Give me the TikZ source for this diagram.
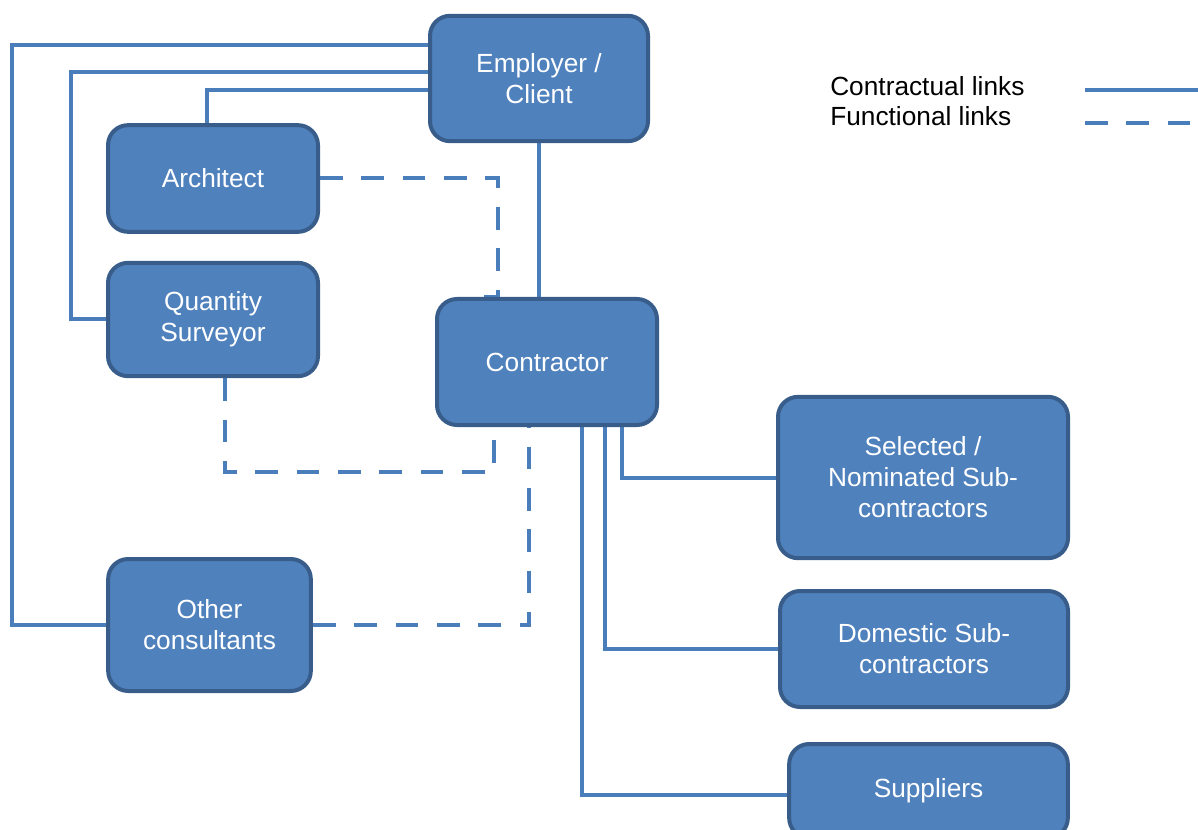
\documentclass[tikz,border=0pt]{standalone}
\usepackage{fontspec}
\setmainfont{Liberation Sans}
\usetikzlibrary{backgrounds}
\definecolor{boxfill}{HTML}{4F81BD}
\definecolor{boxedge}{HTML}{385D8A}
\definecolor{linkcol}{HTML}{4A7EBB}
\tikzset{
  party/.style={draw=boxedge, fill=boxfill, line width=3pt, rounded corners=15pt,
    text=white, align=center, inner sep=0pt,
    font=\fontsize{19.7}{23.3}\selectfont},
  contract/.style={draw=linkcol, line width=3pt},
  functional/.style={draw=linkcol, line width=3pt, dash pattern=on 17pt off 14pt},
  legendtext/.style={anchor=west, inner sep=0pt, font=\fontsize{19.7}{23.3}\selectfont}
}
\begin{document}
\begin{tikzpicture}[x=0.75pt, y=-0.75pt]
\useasboundingbox (0,0) rectangle (1198,830);

% parties
\node[party, minimum width=163.5pt, minimum height=94pt] (emp) at (539,78.5) {Employer /\\Client};
\node[party, minimum width=157.5pt, minimum height=80pt] (arch) at (213,178.5) {Architect};
\node[party, minimum width=157.5pt, minimum height=85pt] (qs) at (213,319.5) {Quantity\\Surveyor};
\node[party, minimum width=165pt, minimum height=94.5pt] (con) at (547,362) {Contractor};
\node[party, minimum width=217.5pt, minimum height=121pt] (sel) at (923,477.5) {Selected /\\Nominated Sub-\\contractors};
\node[party, minimum width=216pt, minimum height=87pt] (dom) at (924,649) {Domestic Sub-\\contractors};
\node[party, minimum width=152pt, minimum height=99pt] (oth) at (209.5,625) {Other\\consultants};
\node[party, minimum width=209pt, minimum height=70.5pt] (sup) at (928.5,791) {Suppliers};

% bend points of the connectors
\coordinate (c1) at (12,45);
\coordinate (c2) at (71,72);
\coordinate (c3) at (207,90);
\coordinate (d1) at (622,477);
\coordinate (d2) at (605,648);
\coordinate (d3) at (582,795);
\coordinate (e1) at (498,179);
\coordinate (f1) at (225,472);
\coordinate (f2) at (494,472);
\coordinate (g1) at (529,625);

\begin{scope}[on background layer]
  % contractual links
  \draw[contract] (emp.west |- c1) -- (c1) |- (oth.west);
  \draw[contract] (emp.west |- c2) -- (c2) |- (qs.west);
  \draw[contract] (emp.west |- c3) -- (c3) -- (c3 |- arch.north);
  \draw[contract] (emp.south) -- (con.north -| emp.south);
  \draw[contract] (con.south -| d1) |- (sel.west);
  \draw[contract] (con.south -| d2) |- (dom.west);
  \draw[contract] (con.south -| d3) -- (d3) -- (sup.west |- d3);
  % functional links
  \draw[functional] (arch.east) -| (con.north -| e1) -- ++(-14,0);
  \draw[functional] (qs.south -| f1) -- (f1) -- (f2) -- (f2 |- con.south);
  \draw[functional] (oth.east) -| (con.south -| g1);
\end{scope}

% legend
\node[legendtext] (lc) at (830,86) {Contractual links};
\node[legendtext] (lf) at (830,116) {Functional links};
\coordinate (la) at (1085,90);
\coordinate (lb) at (1198,90);
\coordinate (lc2) at (1085,123);
\coordinate (ld) at (1198,123);
\draw[contract] (la) -- (lb);
\draw[functional] (lc2) -- (ld);
\end{tikzpicture}
\end{document}
